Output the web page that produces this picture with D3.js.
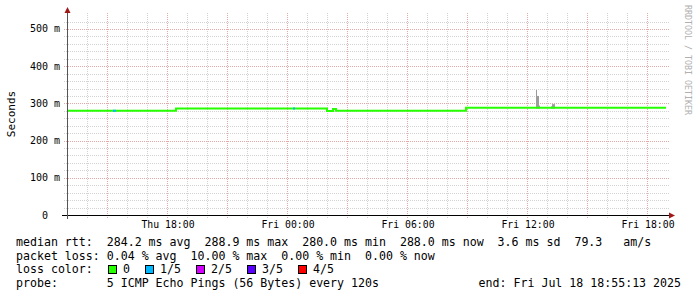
<!DOCTYPE html>
<html>
<head>
<meta charset="utf-8">
<script src="https://cdn.jsdelivr.net/npm/d3@7"></script>
<style>
body { margin: 0; background: #fff; }
svg text { white-space: pre; }
</style>
</head>
<body>
<svg id="chart" width="697" height="297"></svg>
<script>
// median rtt steps (start time of each level, value in ms)
var medianTimes = ["2025-07-17T13:00", "2025-07-17T18:27", "2025-07-18T02:00", "2025-07-18T02:18",
    "2025-07-18T02:27", "2025-07-18T08:57", "2025-07-18T18:57"];
var medianRtt = [280.3, 286.2, 279.8, 285.2, 280.0, 288.0, 288.0];

// samples with 1/5 loss
var lossStart = ["2025-07-17T15:18", "2025-07-18T00:18"];
var lossEnd = ["2025-07-17T15:27", "2025-07-18T00:24"];
var lossLevel = [1, 1];

// smoke (ping spread) that shows above the median
var smokeTimes = ["2025-07-18T12:27", "2025-07-18T12:30", "2025-07-18T12:33", "2025-07-18T12:36",
    "2025-07-18T13:12", "2025-07-18T13:15", "2025-07-18T13:18", "2025-07-18T13:21"];
var smokeTop = [336, 320, 320, 294, 292, 298, 298, 298];

var yTicks = [0, 0.1, 0.2, 0.3, 0.4, 0.5];
var lossNames = ["0", "1/5", "2/5", "3/5", "4/5"];
var lossColors = ["#26ff00", "#00b8ff", "#d400ff", "#5a00ff", "#ff0000"];

var legendRows = [
    "median rtt:  284.2 ms avg  288.9 ms max  280.0 ms min  288.0 ms now  3.6 ms sd  79.3   am/s",
    "packet loss: 0.04 % avg  10.00 % max  0.00 % min  0.00 % now",
    "loss color:",
    "probe:       5 ICMP Echo Pings (56 Bytes) every 120s"
];
var endText = "end: Fri Jul 18 18:55:13 2025";

var parse = d3.utcParse("%Y-%m-%dT%H:%M");
var mono = "'DejaVu Sans Mono', monospace";

var svg = d3.select("#chart");

var x = d3.scaleUtc()
    .domain([parse("2025-07-17T13:00"), parse("2025-07-18T19:00")])
    .range([67, 667]);
var y = d3.scaleLinear().domain([0, 0.5376]).range([215, 15]);

// grid
var grid = svg.append("g").attr("class", "grid");
var hours = d3.utcHour.range(parse("2025-07-17T14:00"), parse("2025-07-18T19:00"));
grid.selectAll(".vgrid").data(hours).enter().append("line")
    .attr("class", "vgrid")
    .attr("x1", function(d){ return Math.round(x(d)) + 0.5; })
    .attr("x2", function(d){ return Math.round(x(d)) + 0.5; })
    .attr("y1", 13).attr("y2", 218)
    .attr("stroke", function(d){ return d.getUTCHours() % 3 === 0 ? "#e2a9a9" : "#d2d2d2"; })
    .attr("stroke-dasharray", "1,1");

var ymin = d3.range(0.02, 0.53, 0.02);
grid.selectAll(".hgrid").data(ymin).enter().append("line")
    .attr("class", "hgrid")
    .attr("x1", 64).attr("x2", 669)
    .attr("y1", function(d){ return Math.round(y(d)) + 0.5; })
    .attr("y2", function(d){ return Math.round(y(d)) + 0.5; })
    .attr("stroke", function(d){ return Math.abs(d * 10 - Math.round(d * 10)) < 0.001 ? "#e2a9a9" : "#d2d2d2"; })
    .attr("stroke-dasharray", "1,1");

// smoke
svg.selectAll(".smoke").data(smokeTimes).enter().append("rect")
    .attr("class", "smoke")
    .attr("x", function(d){ return x(parse(d)); })
    .attr("width", function(d){ return x(d3.utcMinute.offset(parse(d), 3)) - x(parse(d)); })
    .attr("y", function(d, i){ return y(smokeTop[i] / 1000); })
    .attr("height", function(d, i){ return y(0.286) - y(smokeTop[i] / 1000); })
    .attr("fill", "#9c9c9c");

// median line
var steps = medianTimes.map(function(t, i){ return {t: parse(t), v: medianRtt[i] / 1000}; });
var line = d3.line()
    .x(function(d){ return x(d.t); })
    .y(function(d){ return y(d.v); })
    .curve(d3.curveStepAfter);
svg.append("path").datum(steps)
    .attr("d", line)
    .attr("fill", "none")
    .attr("stroke", lossColors[0])
    .attr("stroke-width", 2);

function medianAt(t){
    var v = steps[0].v;
    steps.forEach(function(s){ if (s.t <= t) v = s.v; });
    return v;
}
svg.selectAll(".loss").data(lossStart).enter().append("line")
    .attr("class", "loss")
    .attr("x1", function(d){ return x(parse(d)); })
    .attr("x2", function(d, i){ return x(parse(lossEnd[i])); })
    .attr("y1", function(d){ return y(medianAt(parse(d))); })
    .attr("y2", function(d){ return y(medianAt(parse(d))); })
    .attr("stroke", function(d, i){ return lossColors[lossLevel[i]]; })
    .attr("stroke-width", 2);

// axes
svg.append("line").attr("x1", 62).attr("x2", 670).attr("y1", 215.5).attr("y2", 215.5)
    .attr("stroke", "#000");
svg.append("line").attr("x1", 67.5).attr("x2", 67.5).attr("y1", 219).attr("y2", 11)
    .attr("stroke", "#555");
svg.append("path").attr("d", "M669,212.5L675,215.5L669,218.5Z").attr("fill", "#a01818");
svg.append("path").attr("d", "M64.5,13L67.5,7L70.5,13Z").attr("fill", "#a01818");

// tick labels
var xLabels = d3.utcHour.range(parse("2025-07-17T18:00"), parse("2025-07-18T19:00"), 6);
var fmt = d3.utcFormat("%a %H:%M");
svg.selectAll(".xlab").data(xLabels).enter().append("text")
    .attr("class", "xlab")
    .attr("x", function(d){ return x(d) + 1; })
    .attr("y", 228)
    .attr("text-anchor", "middle")
    .attr("font-family", mono).attr("font-size", "9.8px")
    .attr("fill", "#000")
    .text(function(d){ return fmt(d); });

svg.selectAll(".ylab").data(yTicks).enter().append("text")
    .attr("class", "ylab")
    .attr("x", 60)
    .attr("y", function(d){ return y(d) + 3.5; })
    .attr("text-anchor", "end")
    .attr("font-family", mono).attr("font-size", "10px")
    .attr("fill", "#000")
    .text(function(d){ return d === 0 ? "0  " : Math.round(d * 1000) + " m"; });

svg.append("text")
    .attr("transform", "translate(15,114) rotate(-90)")
    .attr("text-anchor", "middle")
    .attr("font-family", mono).attr("font-size", "11px")
    .attr("fill", "#000")
    .text("Seconds");

svg.append("text")
    .attr("transform", "translate(685,5) rotate(90)")
    .attr("font-family", mono).attr("font-size", "8.3px")
    .attr("fill", "#b0b0b0")
    .text("RRDTOOL / TOBI OETIKER");

// legend
svg.selectAll(".leg").data(legendRows).enter().append("text")
    .attr("class", "leg")
    .attr("x", 16)
    .attr("y", function(d, i){ return 246 + i * 13.5; })
    .attr("font-family", mono).attr("font-size", "11.6px")
    .attr("fill", "#000")
    .text(function(d){ return d; });

svg.append("text")
    .attr("x", 681).attr("y", 246 + 3 * 13.5)
    .attr("text-anchor", "end")
    .attr("font-family", mono).attr("font-size", "11.6px")
    .attr("fill", "#000")
    .text(endText);

var cw = 7, sx = 108;
lossNames.forEach(function(n, i){
    svg.append("rect")
        .attr("x", sx + 0.5).attr("y", 265.5)
        .attr("width", 8).attr("height", 8)
        .attr("fill", lossColors[i])
        .attr("stroke", "#000");
    svg.append("text")
        .attr("x", sx + 15).attr("y", 273)
        .attr("font-family", mono).attr("font-size", "11.6px")
        .attr("fill", "#000")
        .text(n);
    sx = sx + 15 + n.length * cw + 15;
});
</script>
</body>
</html>
